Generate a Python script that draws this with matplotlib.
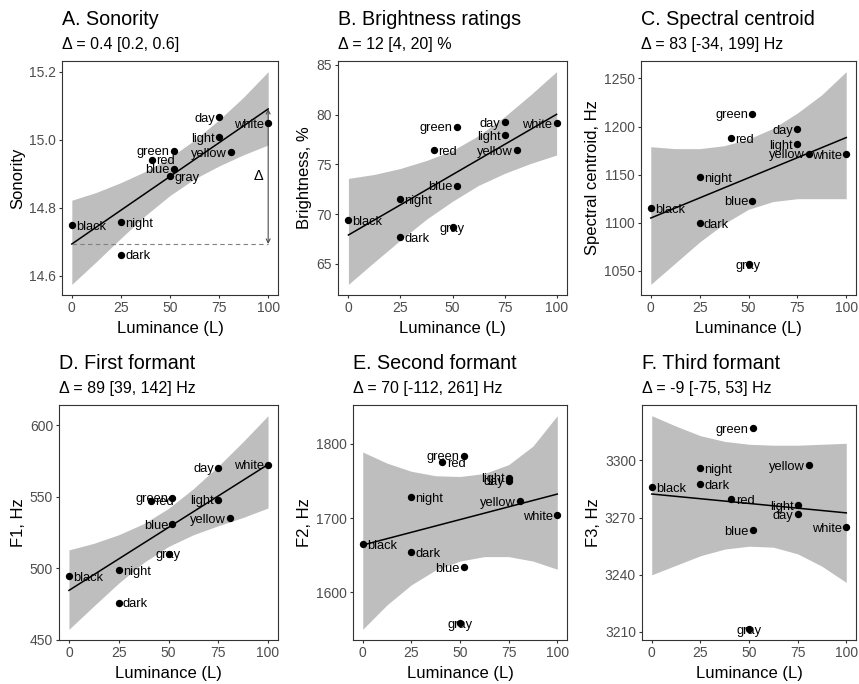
import matplotlib
matplotlib.use('Agg')
import matplotlib.pyplot as plt
import numpy as np

plt.rcParams['font.family'] = ['Liberation Sans', 'DejaVu Sans']

# ---------------- data ----------------
words = ['black', 'night', 'dark', 'red', 'green', 'blue', 'gray', 'day', 'light', 'yellow', 'white']
luminance = [0, 25, 25, 41, 52, 52, 50, 75, 75, 81, 100]

sonority = [14.749, 14.757, 14.662, 14.942, 14.968, 14.915, 14.893, 15.066, 15.008, 14.964, 15.050]
brightness = [69.42, 71.50, 67.68, 76.46, 78.80, 72.87, 68.72, 79.27, 77.93, 76.46, 79.17]
centroid = [1114.9, 1147.6, 1099.3, 1187.8, 1213.5, 1122.9, 1057.0, 1196.9, 1181.6, 1171.9, 1171.5]
formant1 = [494.5, 498.5, 476.0, 547.3, 549.4, 530.6, 510.2, 570.2, 548.0, 535.1, 572.3]
formant2 = [1664.5, 1728.6, 1653.6, 1775.0, 1784.1, 1633.6, 1558.2, 1750.5, 1754.5, 1723.2, 1703.6]
formant3 = [3285.9, 3296.1, 3287.6, 3279.7, 3316.8, 3263.3, 3211.4, 3271.8, 3276.7, 3297.4, 3265.1]

# fitted line at L = 0 and L = 100
fit_x = [0, 100]
sonority_fit = [14.693, 15.091]
brightness_fit = [67.91, 80.04]
centroid_fit = [1104.9, 1188.5]
formant1_fit = [484.5, 572.5]
formant2_fit = [1663.6, 1732.3]
formant3_fit = [3282.4, 3272.5]

# credible band read at these L values
band_x = [0, 12.5, 25, 37.5, 50, 62.5, 75, 87.5, 100]
sonority_lo = [14.574, 14.641, 14.710, 14.777, 14.836, 14.885, 14.923, 14.956, 14.985]
sonority_hi = [14.822, 14.845, 14.874, 14.907, 14.948, 14.999, 15.059, 15.126, 15.201]
brightness_lo = [62.95, 65.2, 67.4, 69.5, 71.3, 72.9, 74.1, 75.1, 75.95]
brightness_hi = [73.6, 74.0, 74.6, 75.4, 76.4, 77.9, 79.8, 82.0, 84.33]
centroid_lo = [1036, 1058, 1080, 1099, 1114, 1122, 1125, 1125, 1125]
centroid_hi = [1179, 1177, 1177, 1180, 1187, 1198, 1214, 1233, 1257]
formant1_lo = [457.3, 473.6, 489.6, 503.9, 515.2, 523.4, 529.7, 535.5, 542.1]
formant1_hi = [512.8, 517.4, 523.4, 531.1, 541.8, 555.6, 571.3, 588.5, 606.6]
formant2_lo = [1550, 1583, 1610, 1630, 1642, 1648, 1648, 1642, 1631]
formant2_hi = [1789, 1774, 1763, 1757, 1756, 1760, 1772, 1797, 1838]
formant3_lo = [3240, 3245, 3250, 3253.5, 3255, 3254.5, 3251, 3244.5, 3236]
formant3_hi = [3323.5, 3318, 3313, 3310, 3308.5, 3308, 3308, 3308.5, 3309]

titles = ['A. Sonority', 'B. Brightness ratings', 'C. Spectral centroid',
          'D. First formant', 'E. Second formant', 'F. Third formant']
subtitles = ['\u0394 = 0.4 [0.2, 0.6]', '\u0394 = 12 [4, 20] %', '\u0394 = 83 [-34, 199] Hz',
             '\u0394 = 89 [39, 142] Hz', '\u0394 = 70 [-112, 261] Hz', '\u0394 = -9 [-75, 53] Hz']
ylabels = ['Sonority', 'Brightness, %', 'Spectral centroid, Hz', 'F1, Hz', 'F2, Hz', 'F3, Hz']
yticks = [[14.6, 14.8, 15.0, 15.2], [65, 70, 75, 80, 85], [1050, 1100, 1150, 1200, 1250],
          [450, 500, 550, 600], [1600, 1700, 1800], [3210, 3240, 3270, 3300]]
ytick_fmt = ['{:.1f}', '{:.0f}', '{:.0f}', '{:.0f}', '{:.0f}', '{:.0f}']
xticks = [0, 25, 50, 75, 100]

series = [sonority, brightness, centroid, formant1, formant2, formant3]
fits = [sonority_fit, brightness_fit, centroid_fit, formant1_fit, formant2_fit, formant3_fit]
lows = [sonority_lo, brightness_lo, centroid_lo, formant1_lo, formant2_lo, formant3_lo]
highs = [sonority_hi, brightness_hi, centroid_hi, formant1_hi, formant2_hi, formant3_hi]

# ---------------- layout (pixels) ----------------
W, H = 859, 684
boxes = [(62, 278, 61, 295), (338, 567, 61, 295), (641, 856, 61, 295),
         (59, 278, 405, 640), (353, 567, 405, 640), (642, 856, 405, 640)]

right_words = {'black', 'night', 'dark', 'red'}

fig = plt.figure(figsize=(W / 100, H / 100), dpi=100)
frame_col = '#333333'
text_col = '#4D4D4D'

for i in range(6):
    l, r, t, b = boxes[i]
    ax = fig.add_axes([l / W, 1 - b / H, (r - l) / W, (b - t) / H])
    ax.fill_between(band_x, lows[i], highs[i], color='#BEBEBE', lw=0, zorder=1)
    ax.plot(fit_x, fits[i], color='black', lw=1.1, zorder=2)
    ax.scatter(luminance, series[i], s=28, color='black', zorder=3, lw=0)
    for w, x, y in zip(words, luminance, series[i]):
        if w in right_words or (w == 'gray' and i == 0):
            ha, dx = 'left', 3
        elif w == 'gray':
            ha, dx = 'center', 0
        else:
            ha, dx = 'right', -3
        ax.annotate(w, (x, y), xytext=(dx, -1.2), textcoords='offset points',
                    ha=ha, va='center', fontsize=9.3, color='black', zorder=4)
    if i == 0:
        y0, y1 = fits[0]
        ax.plot([0, 100], [y0, y0], ls=(0, (4, 3)), color='#808080', lw=0.8, zorder=2)
        ax.annotate('', xy=(100, y0), xytext=(100, y1),
                    arrowprops=dict(arrowstyle='<->', color='#4D4D4D', lw=0.8,
                                    mutation_scale=7, shrinkA=0, shrinkB=0), zorder=2)
        ax.text(97.8, (y0 + y1) / 2, '\u0394', ha='right', va='center', fontsize=10.5)
    ax.margins(x=0.05, y=0.05)
    ax.set_xticks(xticks)
    ax.set_xticklabels([str(v) for v in xticks])
    ax.set_yticks(yticks[i])
    ax.set_yticklabels([ytick_fmt[i].format(v) for v in yticks[i]])
    ax.tick_params(direction='out', length=2.3, width=0.8, color=frame_col,
                   labelcolor=text_col, labelsize=10, pad=2)
    for sp in ax.spines.values():
        sp.set_color(frame_col)
        sp.set_linewidth(0.8)
    ax.set_xlabel('Luminance (L)', fontsize=12, labelpad=4)
    ax.set_ylabel(ylabels[i], fontsize=12, labelpad=3)
    fig.text(l / W, 1 - (t - 36) / H, titles[i], fontsize=14.2, ha='left', va='baseline')
    fig.text(l / W, 1 - (t - 12.5) / H, subtitles[i], fontsize=11.5, ha='left', va='baseline')

fig.savefig('out.png', dpi=100)
